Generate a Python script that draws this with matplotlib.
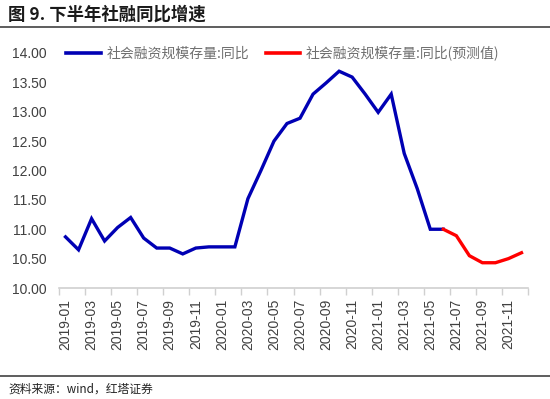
import matplotlib
matplotlib.use("Agg")
import matplotlib.pyplot as plt
from matplotlib.lines import Line2D
import numpy as np

plt.rcParams['font.family'] = ['Liberation Sans', 'Noto Sans CJK SC', 'DejaVu Sans']

months = [f"{y}-{m:02d}" for y in (2019, 2020, 2021) for m in range(1, 13)]

# 社融存量同比 (实际), 2019-01 .. 2021-06
actual = [10.87, 10.65, 11.18, 10.80, 11.03, 11.20, 10.85, 10.68, 10.68, 10.58,
          10.68, 10.70, 10.70, 10.70, 11.52, 12.00, 12.50, 12.80, 12.89, 13.30,
          13.49, 13.69, 13.59, 13.30, 12.99, 13.30, 12.29, 11.69, 11.00, 11.00]
# 预测值, 2021-06 .. 2021-12
forecast = [11.00, 10.89, 10.55, 10.43, 10.43, 10.50, 10.60]

yticks = [10.0, 10.5, 11.0, 11.5, 12.0, 12.5, 13.0, 13.5, 14.0]

fig = plt.figure(figsize=(5.5, 3.99), dpi=100)
ax = fig.add_axes([59 / 550, 1 - 288 / 399, (528 - 59) / 550, (288 - 53) / 399])

x_act = np.arange(len(actual))
x_fc = np.arange(len(actual) - 1, len(months))
ax.plot(x_act, actual, color='#0000B4', lw=2.4, solid_joinstyle='miter', clip_on=False)
ax.plot(x_fc, forecast, color='#FF0000', lw=2.4, solid_joinstyle='miter', clip_on=False)

ax.set_xlim(-0.5, len(months) - 0.5)
ax.set_ylim(10, 14)
ax.set_yticks(yticks)
ax.set_yticklabels([f"{v:.2f}" for v in yticks], fontsize=10, color='#404040')
ax.tick_params(axis='y', length=0, pad=9)

ax.set_xticks(np.arange(0, len(months), 2))
ax.set_xticklabels(months[::2], rotation=90, fontsize=10, color='#404040')
ax.set_xticks(np.arange(-0.5, len(months), 2), minor=True)
ax.tick_params(axis='x', which='major', length=0, pad=8)
ax.tick_params(axis='x', which='minor', length=5, color='#D0D0D0', width=1)

for s in ('top', 'right', 'left'):
    ax.spines[s].set_visible(False)
ax.spines['bottom'].set_color('#D0D0D0')
ax.spines['bottom'].set_linewidth(1.2)

handles = [Line2D([], [], color='#0000B4', lw=2.6),
           Line2D([], [], color='#FF0000', lw=2.6)]
fig.legend(handles, ['社会融资规模存量:同比', '社会融资规模存量:同比(预测值)'],
           loc='center left', bbox_to_anchor=(66 / 550, 1 - 53 / 399), ncol=2,
           frameon=False, handlelength=2.5, handletextpad=0.4, columnspacing=1.2,
           prop={'family': ['Noto Sans CJK SC'], 'size': 10},
           labelcolor='#707070', borderaxespad=0, borderpad=0)

fig.text(8 / 550, 1 - 15 / 399, '图 9. 下半年社融同比增速', fontsize=12.5, fontweight='bold',
         family=['Noto Sans CJK SC'], va='center', ha='left', color='#1a1a1a')
fig.add_artist(Line2D([0, 1], [1 - 27 / 399] * 2, color='#505050', lw=1.3))
fig.add_artist(Line2D([0, 1], [1 - 376 / 399] * 2, color='#505050', lw=1.3))
fig.text(8 / 550, 1 - 389 / 399, '资料来源：wind，红塔证券', fontsize=8.5,
         family=['Noto Sans CJK SC', 'Liberation Sans'], va='center', ha='left', color='#222222')

fig.savefig('out.png', dpi=100)
